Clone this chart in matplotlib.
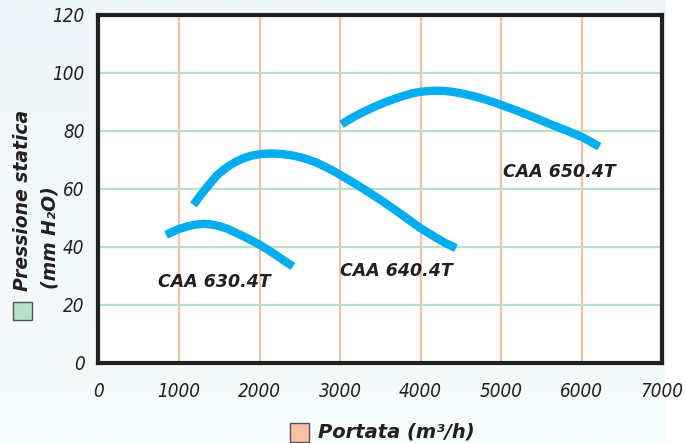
import numpy as np
import matplotlib
matplotlib.use("Agg")
import matplotlib.pyplot as plt
from matplotlib.patches import Rectangle
from matplotlib import font_manager as fm

# ---- data ----
x_630 = [840, 925, 1000, 1100, 1200, 1300, 1400, 1500, 1600, 1700, 1800, 1900,
         2000, 2100, 2200, 2300, 2415]
y_630 = [44.2, 45.3, 46.2, 47.1, 47.7, 48.0, 47.8, 47.2, 46.3, 45.0, 43.7, 42.3,
         40.8, 39.1, 37.3, 35.4, 33.3]

x_640 = [1180, 1250, 1300, 1400, 1468, 1500, 1600, 1700, 1800, 1900, 2000, 2100,
         2200, 2300, 2400, 2500, 2600, 2700, 2800, 2900, 3000, 3100, 3200, 3300,
         3400, 3500, 3600, 3700, 3800, 3900, 4000, 4100, 4200, 4300, 4440]
y_640 = [54.5, 57.2, 59.0, 62.4, 64.6, 65.4, 67.6, 69.3, 70.6, 71.5, 72.0, 72.2,
         72.2, 72.0, 71.6, 71.0, 70.2, 69.2, 67.9, 66.5, 64.9, 63.3, 61.6, 59.9,
         58.1, 56.3, 54.4, 52.5, 50.5, 48.5, 46.5, 44.8, 43.1, 41.5, 39.6]

x_650 = [3020, 3100, 3200, 3300, 3400, 3500, 3600, 3700, 3800, 3900, 4000, 4100,
         4200, 4300, 4400, 4500, 4600, 4700, 4800, 4900, 5000, 5100, 5200, 5400,
         5600, 5800, 6000, 6100, 6222]
y_650 = [82.3, 83.7, 85.3, 86.7, 88.0, 89.2, 90.3, 91.3, 92.2, 93.0, 93.5, 93.8,
         93.9, 93.8, 93.5, 93.0, 92.4, 91.7, 90.9, 90.0, 89.0, 88.0, 87.0, 84.8,
         82.5, 80.3, 78.0, 76.5, 74.6]

labels = ["CAA 630.4T", "CAA 640.4T", "CAA 650.4T"]
label_pos = [(740, 28), (3000, 31.7), (5020, 65.9)]

x_ticks = [0, 1000, 2000, 3000, 4000, 5000, 6000, 7000]
y_ticks = [0, 20, 40, 60, 80, 100, 120]

# ---- fonts ----
names = {f.name for f in fm.fontManager.ttflist}
cond = [f for f in fm.fontManager.ttflist
        if "condensed" in str(f.stretch).lower() or "narrow" in f.name.lower()]
if "Liberation Sans Narrow" in names:
    tick_family, tick_stretch, tick_size = "Liberation Sans Narrow", "normal", 14
elif any(f.name == "DejaVu Sans" for f in cond):
    tick_family, tick_stretch, tick_size = "DejaVu Sans", "condensed", 13.5
else:
    tick_family, tick_stretch, tick_size = "Liberation Sans", "normal", 13

W, H = 686, 443
fig = plt.figure(figsize=(W / 100, H / 100), dpi=100)
fig.patch.set_facecolor("white")

# background gradient panel
bg = fig.add_axes([0, 0, 666 / W, 1], zorder=-10)
grad = np.linspace(0, 1, 256).reshape(-1, 1)
top = np.array([0xEE, 0xF7, 0xF9]) / 255
bot = np.array([0xF6, 0xFB, 0xFB]) / 255
img = top + (bot - top) * grad[:, :, None]
bg.imshow(img, aspect="auto", extent=[0, 1, 0, 1])
bg.axis("off")

left, right, topp, bottom = 98.5, 662, 15, 363
ax = fig.add_axes([left / W, (H - bottom) / H, (right - left) / W, (bottom - topp) / H])
ax.set_facecolor("white")
ax.set_xlim(0, 7000)
ax.set_ylim(0, 120)

for xv in x_ticks[1:-1]:
    ax.axvline(xv, color="#fbbfa8", lw=1.6, zorder=1)
for yv in y_ticks[1:-1]:
    ax.axhline(yv, color="#b7e0c6", lw=1.6, zorder=1)

blue = "#00aeef"
for xs, ys in [(x_630, y_630), (x_640, y_640), (x_650, y_650)]:
    ax.plot(xs, ys, color=blue, lw=6, solid_capstyle="butt", solid_joinstyle="round", zorder=3)

for lab, (lx, ly) in zip(labels, label_pos):
    ax.text(lx, ly, lab, fontsize=12.5, fontweight="bold", fontstyle="italic",
            color="#231f20", ha="left", va="center", zorder=4)

for s in ax.spines.values():
    s.set_linewidth(3)
    s.set_color("#231f20")

ax.set_xticks(x_ticks)
ax.set_yticks(y_ticks)
ax.set_xticklabels([str(v) for v in x_ticks])
ax.set_yticklabels([str(v) for v in y_ticks])
ax.tick_params(length=0, pad=10, labelsize=tick_size, colors="#231f20")
ax.tick_params(axis="x", pad=14)
for t in ax.get_xticklabels() + ax.get_yticklabels():
    t.set_family(tick_family)
    t.set_style("italic")
    t.set_stretch(tick_stretch)

# axis titles
fig.text(318 / W, 1 - 432 / H, "Portata (m³/h)", fontsize=14, fontweight="bold",
         fontstyle="italic", color="#231f20", ha="left", va="center")
fig.add_artist(Rectangle((290 / W, 1 - 442 / H), 19 / W, 19 / H, transform=fig.transFigure,
                         facecolor="#fbbfa8", edgecolor="#555555", lw=1))

fig.text(23 / W, 1 - 200 / H, "Pressione statica", fontsize=13.5, fontweight="bold",
         fontstyle="italic", color="#231f20", rotation=90, ha="center", va="center")
fig.text(50 / W, 1 - 238 / H, "(mm H₂O)", fontsize=13.5, fontweight="bold",
         fontstyle="italic", color="#231f20", rotation=90, ha="center", va="center")
fig.add_artist(Rectangle((13 / W, 1 - 320 / H), 19 / W, 18 / H, transform=fig.transFigure,
                         facecolor="#b7e0c6", edgecolor="#555555", lw=1))

fig.savefig("out.png", dpi=100)
